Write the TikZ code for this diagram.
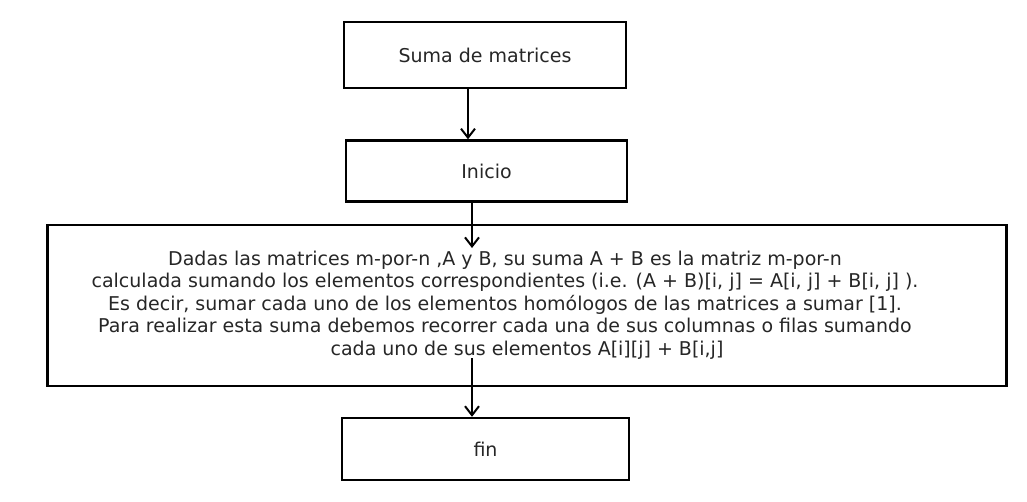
\documentclass[tikz,border=0pt]{standalone}
\usepackage{fontspec}
\setmainfont{DejaVu Sans}
\usetikzlibrary{arrows.meta}
\begin{document}
\begin{tikzpicture}[x=1pt,y=1pt,
  box/.style={draw=black,line width=2.4pt,minimum width=#1,inner sep=0pt},
  conn/.style={line width=2.2pt,-{Straight Barb[length=9pt,width=14pt,line width=2pt]}},
  txt/.style={font=\fontsize{19}{22.5}\selectfont,text=black!85}]
\useasboundingbox (0,0) rectangle (1027,-501);
\node[box=282pt,minimum height=66pt,txt] (b1) at (485,-55) {Suma de matrices};
\node[box=281pt,minimum height=61pt,txt] (b2) at (486.5,-171) {Inicio};
\node[box=959pt,minimum height=161pt] (b3) at (527,-305.5) {};
\node[txt,align=center] (t3) at (505,-305) {Dadas las matrices m-por-n ,A y B, su suma A + B es la matriz m-por-n\\
calculada sumando los elementos correspondientes (i.e. (A + B)[i, j] = A[i, j] + B[i, j] ).\\
Es decir, sumar cada uno de los elementos homólogos de las matrices a sumar [1].\\
Para realizar esta suma debemos recorrer cada una de sus columnas o filas sumando\\
\hspace*{44pt}cada uno de sus elementos A[i][j] + B[i,j]};
\node[box=287pt,minimum height=62pt,txt] (b4) at (485.5,-449) {fin};
\coordinate (a1) at (468,0);
\coordinate (a2e) at (472,-248);
\coordinate (a3s) at (472,-358);
\draw[conn] (b1.south -| a1) -- (b2.north -| a1);
\draw[conn] (b2.south -| a2e) -- (a2e);
\draw[conn] (a3s) -- (a3s |- b4.north);
\end{tikzpicture}
\end{document}
